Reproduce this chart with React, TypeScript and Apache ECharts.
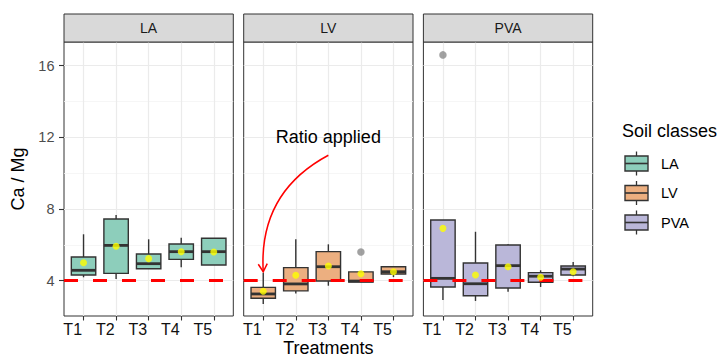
import React, { useEffect, useRef } from 'react';
import * as echarts from 'echarts';

// ---------------- data ----------------
const treatments = ['T1', 'T2', 'T3', 'T4', 'T5'];
const soilClasses = ['LA', 'LV', 'PVA'];
const fills = ['#8DCEBB', '#ECAF80', '#BAB7D9'];

// [min, q1, median, q3, max] for T1..T5
const boxLA = [
  [4.19, 4.32, 4.58, 5.32, 6.59],
  [4.1, 4.41, 5.97, 7.44, 7.67],
  [4.67, 4.67, 4.95, 5.49, 6.31],
  [4.75, 5.19, 5.62, 6.05, 6.4],
  [4.88, 4.88, 5.62, 6.37, 6.37],
];
const boxLV = [
  [2.7, 3.02, 3.26, 3.63, 4.45],
  [3.28, 3.43, 3.82, 4.73, 6.31],
  [3.72, 3.98, 4.78, 5.62, 6.03],
  [3.93, 3.93, 3.98, 4.49, 4.49],
  [4.2, 4.37, 4.5, 4.78, 4.82],
];
const boxPVA = [
  [2.92, 3.65, 4.13, 7.39, 7.39],
  [2.87, 3.16, 3.83, 4.99, 6.73],
  [3.39, 3.59, 4.84, 5.99, 6.03],
  [3.65, 3.91, 4.25, 4.45, 4.58],
  [4.25, 4.32, 4.65, 4.82, 5.04],
];
const meanLA = [5.0, 5.92, 5.23, 5.62, 5.6];
const meanLV = [3.41, 4.3, 4.82, 4.39, 4.5];
const meanPVA = [6.92, 4.32, 4.78, 4.19, 4.5];
// [treatment number, value]
const outliersLA: number[][] = [];
const outliersLV = [[4, 5.6]];
const outliersPVA = [[1, 16.6]];

const yTicks = [4, 8, 12, 16];
const yMinorTicks = [6, 10, 14];
const xTicks = [1, 2, 3, 4, 5];
const referenceRatio = 4;
const annotationText = 'Ratio applied';
const annotationPos = [3, 12];
const arrowFrom = [3, 11];
const arrowTo = [1, 4.5];

const boxes = [boxLA, boxLV, boxPVA];
const means = [meanLA, meanLV, meanPVA];
const outliers = [outliersLA, outliersLV, outliersPVA];

// ---------------- layout ----------------
const FONT = 'Liberation Sans, Arial, Helvetica, sans-serif';
const PANEL_LEFT = [64, 243.7, 423.4];
const PANEL_W = 169.3;
const PLOT_TOP = 42;
const PLOT_H = 274;
const STRIP_TOP = 14;
const Y_MIN = 2.03;
const Y_MAX = 17.32;
const X_MIN = 0.4;
const X_MAX = 5.6;
const STROKE = '#333333';

export default function App() {
  const ref = useRef<HTMLDivElement>(null);

  useEffect(() => {
    const chart = echarts.init(ref.current!, null, { renderer: 'svg' });

    const grids = PANEL_LEFT.map((l) => ({
      left: l,
      top: PLOT_TOP,
      width: PANEL_W,
      height: PLOT_H,
      show: true,
      backgroundColor: '#FFFFFF',
      borderColor: STROKE,
      borderWidth: 1,
      containLabel: false,
      outerBoundsMode: 'none',
    }));

    const xAxes = PANEL_LEFT.map((_, i) => ({
      type: 'value',
      gridIndex: i,
      min: X_MIN,
      max: X_MAX,
      name: i === 1 ? 'Treatments' : '',
      nameLocation: 'middle',
      nameMoveOverlap: false,
      nameGap: 23,
      nameTextStyle: { fontSize: 18, color: '#000', fontFamily: FONT },
      axisLine: { show: false },
      axisTick: {
        show: true,
        customValues: xTicks,
        length: 4.5,
        lineStyle: { color: STROKE, width: 1.1 },
      },
      axisLabel: {
        customValues: xTicks,
        formatter: (v: number) => treatments[Math.round(v) - 1] ?? '',
        fontSize: 16,
        color: '#111',
        fontFamily: FONT,
        align: 'right',
        padding: [0, 1.5, 0, 0],
        margin: 5.5,
      },
      splitLine: { show: true, lineStyle: { color: '#EBEBEB', width: 1.2 } },
    }));

    const yMajor = PANEL_LEFT.map((_, i) => ({
      type: 'value',
      gridIndex: i,
      min: Y_MIN,
      max: Y_MAX,
      position: 'left',
      name: i === 0 ? 'Ca / Mg' : '',
      nameLocation: 'middle',
      nameMoveOverlap: false,
      nameGap: 37,
      nameTextStyle: { fontSize: 18, color: '#000', fontFamily: FONT },
      axisLine: { show: false },
      axisTick: {
        show: i === 0,
        customValues: yTicks,
        length: 5,
        lineStyle: { color: STROKE, width: 1.1 },
      },
      axisLabel: {
        show: i === 0,
        customValues: yTicks,
        fontSize: 14.5,
        color: '#4D4D4D',
        fontFamily: FONT,
        margin: 9.5,
      },
      splitLine: { show: true, lineStyle: { color: '#EBEBEB', width: 1.2 } },
    }));

    const yMinor = PANEL_LEFT.map((_, i) => ({
      type: 'value',
      gridIndex: i,
      min: Y_MIN,
      max: Y_MAX,
      position: 'right',
      axisLine: { show: false },
      axisTick: { show: false, customValues: yMinorTicks },
      axisLabel: { show: false, customValues: yMinorTicks },
      splitLine: { show: true, lineStyle: { color: '#F4F4F4', width: 0.8 } },
    }));

    const series: any[] = [];
    soilClasses.forEach((cls, i) => {
      const fill = fills[i];
      series.push({
        type: 'custom',
        name: cls,
        xAxisIndex: i,
        yAxisIndex: i,
        z: 2,
        encode: { x: 0, y: [1, 2, 3, 4, 5] },
        data: boxes[i].map((b, k) => [k + 1, ...b]),
        renderItem: (params: any, api: any) => {
          const x = api.value(0);
          const w = api.size([0.75, 0])[0];
          const pMin = api.coord([x, api.value(1)]);
          const pQ1 = api.coord([x, api.value(2)]);
          const pMed = api.coord([x, api.value(3)]);
          const pQ3 = api.coord([x, api.value(4)]);
          const pMax = api.coord([x, api.value(5)]);
          return {
            type: 'group',
            children: [
              {
                type: 'line',
                shape: { x1: pQ3[0], y1: pQ3[1], x2: pMax[0], y2: pMax[1] },
                style: { stroke: STROKE, lineWidth: 1.4 },
              },
              {
                type: 'line',
                shape: { x1: pMin[0], y1: pMin[1], x2: pQ1[0], y2: pQ1[1] },
                style: { stroke: STROKE, lineWidth: 1.4 },
              },
              {
                type: 'rect',
                shape: { x: pQ3[0] - w / 2, y: pQ3[1], width: w, height: pQ1[1] - pQ3[1] },
                style: { fill, stroke: STROKE, lineWidth: 1.4 },
              },
              {
                type: 'line',
                shape: { x1: pMed[0] - w / 2, y1: pMed[1], x2: pMed[0] + w / 2, y2: pMed[1] },
                style: { stroke: STROKE, lineWidth: 2.8 },
              },
            ],
          };
        },
        markLine: {
          silent: true,
          symbol: 'none',
          label: { show: false },
          lineStyle: { color: '#FF0000', width: 3, type: [14, 15], cap: 'butt' },
          data: [{ yAxis: referenceRatio }],
        },
      });
      series.push({
        type: 'scatter',
        name: cls + ' outliers',
        xAxisIndex: i,
        yAxisIndex: i,
        z: 3,
        symbolSize: 7.5,
        itemStyle: { color: '#8A8A8A' },
        data: outliers[i],
      });
      series.push({
        type: 'scatter',
        name: cls + ' mean',
        xAxisIndex: i,
        yAxisIndex: i,
        z: 6,
        symbolSize: 7,
        itemStyle: { color: '#FFFF00' },
        data: means[i].map((v, k) => [k + 1, v]),
      });
    });

    chart.setOption({
      animation: false,
      textStyle: { fontFamily: FONT },
      grid: grids,
      xAxis: xAxes,
      yAxis: [...yMajor, ...yMinor],
      series,
    });

    // ---------- graphics: strips, legend, annotation ----------
    const g: any[] = [];
    soilClasses.forEach((cls, i) => {
      g.push({
        type: 'rect',
        shape: { x: PANEL_LEFT[i], y: STRIP_TOP, width: PANEL_W, height: PLOT_TOP - STRIP_TOP },
        style: { fill: '#D9D9D9', stroke: STROKE, lineWidth: 1 },
        z: 10,
      });
      g.push({
        type: 'text',
        x: PANEL_LEFT[i] + PANEL_W / 2,
        y: (STRIP_TOP + PLOT_TOP) / 2,
        style: {
          text: cls,
          fontSize: 14,
          fontFamily: FONT,
          fill: '#1A1A1A',
          align: 'center',
          verticalAlign: 'middle',
        },
        z: 11,
      });
    });

    // legend
    g.push({
      type: 'text',
      x: 622,
      y: 130.5,
      style: {
        text: 'Soil classes',
        fontSize: 18,
        fontFamily: FONT,
        fill: '#000',
        align: 'left',
        verticalAlign: 'middle',
      },
      z: 11,
    });
    soilClasses.forEach((cls, i) => {
      const cy = 163.5 + i * 29.5;
      const x0 = 625;
      const kw = 23;
      g.push({
        type: 'line',
        shape: { x1: x0 + kw / 2, y1: cy - 12, x2: x0 + kw / 2, y2: cy + 12 },
        style: { stroke: STROKE, lineWidth: 1.3 },
        z: 10,
      });
      g.push({
        type: 'rect',
        shape: { x: x0, y: cy - 7.5, width: kw, height: 15 },
        style: { fill: fills[i], stroke: STROKE, lineWidth: 1.4 },
        z: 11,
      });
      g.push({
        type: 'line',
        shape: { x1: x0, y1: cy, x2: x0 + kw, y2: cy },
        style: { stroke: STROKE, lineWidth: 1.6 },
        z: 12,
      });
      g.push({
        type: 'text',
        x: 661,
        y: cy,
        style: {
          text: cls,
          fontSize: 14.5,
          fontFamily: FONT,
          fill: '#000',
          align: 'left',
          verticalAlign: 'middle',
        },
        z: 11,
      });
    });

    // annotation in LV panel, anchored in data coordinates
    const toPx = (p: number[]) =>
      chart.convertToPixel({ xAxisIndex: 1, yAxisIndex: 1 } as any, p) as number[];
    const tp = toPx(annotationPos);
    const S = toPx(arrowFrom);
    const E = toPx(arrowTo);
    const vx = E[0] - S[0];
    const vy = E[1] - S[1];
    const M = [(S[0] + E[0]) / 2, (S[1] + E[1]) / 2];
    const k = 0.32;
    const C = [M[0] - k * vy, M[1] + k * vx];
    const tx = E[0] - C[0];
    const ty = E[1] - C[1];
    const tl = Math.hypot(tx, ty);
    const ux = -tx / tl;
    const uy = -ty / tl;
    const ang = (30 * Math.PI) / 180;
    const L = 9;
    const arm = (a: number) => [
      E[0] + L * (ux * Math.cos(a) - uy * Math.sin(a)),
      E[1] + L * (ux * Math.sin(a) + uy * Math.cos(a)),
    ];
    g.push({
      type: 'text',
      x: tp[0],
      y: tp[1],
      style: {
        text: annotationText,
        fontSize: 18,
        fontFamily: FONT,
        fill: '#000',
        align: 'center',
        verticalAlign: 'middle',
      },
      z: 20,
    });
    g.push({
      type: 'bezierCurve',
      shape: { x1: S[0], y1: S[1], x2: E[0], y2: E[1], cpx1: C[0], cpy1: C[1] },
      style: { stroke: '#FF0000', lineWidth: 1.5, fill: 'none' },
      z: 20,
    });
    g.push({
      type: 'polyline',
      shape: { points: [arm(ang), E, arm(-ang)] },
      style: { stroke: '#FF0000', lineWidth: 1.5, fill: 'none' },
      z: 20,
    });

    chart.setOption({ graphic: { elements: g } });

    return () => chart.dispose();
  }, []);

  return (
    <div
      ref={ref}
      style={{ position: 'fixed', left: 0, top: 0, width: 721, height: 358, background: '#fff' }}
    />
  );
}
